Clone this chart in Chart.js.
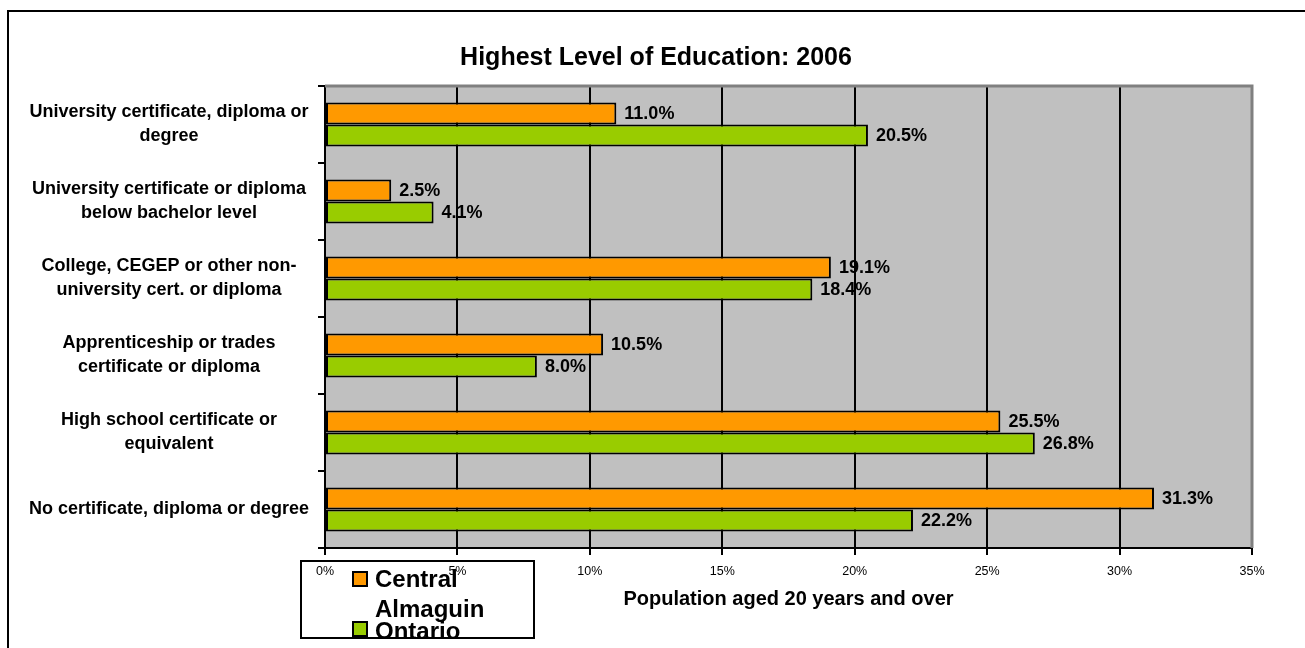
<html>
  <head>
    <title>Highest Level of Education: 2006</title>
    <script src="https://cdn.jsdelivr.net/npm/chart.js"></script>
    <style>
      html, body {
        margin: 0;
        overflow: hidden;
        background: #fff;
        font-family: "Liberation Sans", Arial, sans-serif;
      }
      .frame {
        position: absolute;
        left: 7px;
        top: 10px;
        width: 1400px;
        height: 700px;
        border: 2px solid #000;
      }
      #educationChart {
        position: absolute;
        left: 0;
        top: 0;
      }
      /* legend box sits over the axis, like the original */
      .legend {
        position: absolute;
        left: 300px;
        top: 560px;
        width: 235px;
        height: 79px;
        box-sizing: border-box;
        border: 2px solid #000;
        overflow: hidden;
      }
      .legend .swatch {
        position: absolute;
        left: 50px;
        width: 16px;
        height: 16px;
        box-sizing: border-box;
        border: 2px solid #000;
      }
      .legend .label {
        position: absolute;
        left: 73px;
        width: 150px;
        font: bold 24px/30px "Liberation Sans", Arial, sans-serif;
        color: #000;
      }
    </style>
  </head>
  <body>
    <div class="frame"></div>
    <canvas id="educationChart" width="1305" height="648"></canvas>
    <div class="legend" id="legend"></div>

    <script>
      // Chart data
      const categories = [
        ['University certificate, diploma or', 'degree'],
        ['University certificate or diploma', 'below bachelor level'],
        ['College, CEGEP or other non-', 'university cert. or diploma'],
        ['Apprenticeship or trades', 'certificate or diploma'],
        ['High school certificate or', 'equivalent'],
        'No certificate, diploma or degree'
      ];
      const seriesNames = ['Central Almaguin', 'Ontario'];
      const centralAlmaguin = [11.0, 2.5, 19.1, 10.5, 25.5, 31.3];
      const ontario = [20.5, 4.1, 18.4, 8.0, 26.8, 22.2];
      const seriesColors = ['#FF9900', '#99CC00'];
      const xMin = 0, xMax = 35, xStep = 5;

      const fontFamily = '"Liberation Sans", Arial, sans-serif';

      // grey plot area with grey top/right edge
      const plotFrame = {
        id: 'plotFrame',
        beforeDraw(chart) {
          const { ctx, chartArea: a } = chart;
          ctx.save();
          ctx.fillStyle = '#C0C0C0';
          ctx.fillRect(a.left, a.top, a.right - a.left, a.bottom - a.top);
          ctx.restore();
        },
        beforeDatasetsDraw(chart) {
          const { ctx, chartArea: a } = chart;
          ctx.save();
          ctx.strokeStyle = '#808080';
          ctx.lineWidth = 3;
          ctx.beginPath();
          ctx.moveTo(a.left, a.top);
          ctx.lineTo(a.right, a.top);
          ctx.lineTo(a.right, a.bottom);
          ctx.stroke();
          ctx.restore();
        }
      };

      // value labels at the end of each bar
      const barValueLabels = {
        id: 'barValueLabels',
        afterDatasetsDraw(chart) {
          const ctx = chart.ctx;
          ctx.save();
          ctx.font = 'bold 18px ' + fontFamily;
          ctx.fillStyle = '#000';
          ctx.textAlign = 'left';
          ctx.textBaseline = 'middle';
          chart.data.datasets.forEach((ds, i) => {
            chart.getDatasetMeta(i).data.forEach((bar, j) => {
              ctx.fillText(ds.data[j].toFixed(1) + '%', bar.x + 8, bar.y + 1);
            });
          });
          ctx.restore();
        }
      };

      const ctx = document.getElementById('educationChart').getContext('2d');
      const educationChart = new Chart(ctx, {
        type: 'bar',
        data: {
          labels: categories,
          datasets: [
            { label: seriesNames[0], data: centralAlmaguin, backgroundColor: seriesColors[0] },
            { label: seriesNames[1], data: ontario, backgroundColor: seriesColors[1] }
          ].map(ds => Object.assign(ds, {
            borderColor: '#000',
            borderWidth: 2,
            borderSkipped: false,
            barPercentage: 1,
            categoryPercentage: 0.571
          }))
        },
        options: {
          indexAxis: 'y',
          responsive: false,
          animation: false,
          devicePixelRatio: 1,
          layout: { padding: { top: 30, left: 20, right: 13, bottom: 0 } },
          plugins: {
            legend: { display: false },
            tooltip: { enabled: false },
            title: {
              display: true,
              text: 'Highest Level of Education: 2006',
              color: '#000',
              font: { family: fontFamily, size: 25, weight: 'bold' },
              padding: { top: 13, bottom: 13 }
            }
          },
          scales: {
            x: {
              type: 'linear',
              position: 'bottom',
              min: xMin,
              max: xMax,
              ticks: {
                stepSize: xStep,
                callback: v => v + '%',
                color: '#000',
                font: { family: fontFamily, size: 12.5 },
                padding: 9,
                maxRotation: 0
              },
              grid: {
                color: c => (c.tick && c.tick.value === xMax) ? 'rgba(0,0,0,0)' : '#000',
                lineWidth: 2,
                tickColor: '#000',
                tickLength: 7
              },
              border: { color: '#000', width: 2 },
              title: {
                display: true,
                text: 'Population aged 20 years and over',
                color: '#000',
                font: { family: fontFamily, size: 20, weight: 'bold' },
                padding: { top: 0, bottom: 37 }
              },
              afterFit: s => { s.height = 100; }
            },
            y: {
              type: 'category',
              ticks: {
                color: '#000',
                font: { family: fontFamily, size: 18, weight: 'bold', lineHeight: 1.33 },
                crossAlign: 'center',
                padding: 9
              },
              grid: {
                offset: true,
                drawOnChartArea: false,
                tickColor: '#000',
                tickLength: 7,
                lineWidth: 2
              },
              border: { color: '#000', width: 2 },
              afterFit: s => { s.width = 305; }
            },
            // empty right-hand margin so the title centres on the whole frame
            spacer: {
              type: 'linear',
              axis: 'y',
              position: 'right',
              ticks: { display: false },
              grid: { display: false },
              border: { display: false },
              afterFit: s => { s.width = 40; }
            }
          }
        },
        plugins: [plotFrame, barValueLabels]
      });

      // legend drawn as html so it can overlap the axis like the original
      const legendEl = document.getElementById('legend');
      const legendTops = [[9, 2], [59, 54]];
      seriesNames.forEach((name, i) => {
        const sw = document.createElement('div');
        sw.className = 'swatch';
        sw.style.top = legendTops[i][0] + 'px';
        sw.style.background = seriesColors[i];
        const lb = document.createElement('div');
        lb.className = 'label';
        lb.style.top = legendTops[i][1] + 'px';
        lb.textContent = name;
        legendEl.appendChild(sw);
        legendEl.appendChild(lb);
      });
    </script>
  </body>
</html>
